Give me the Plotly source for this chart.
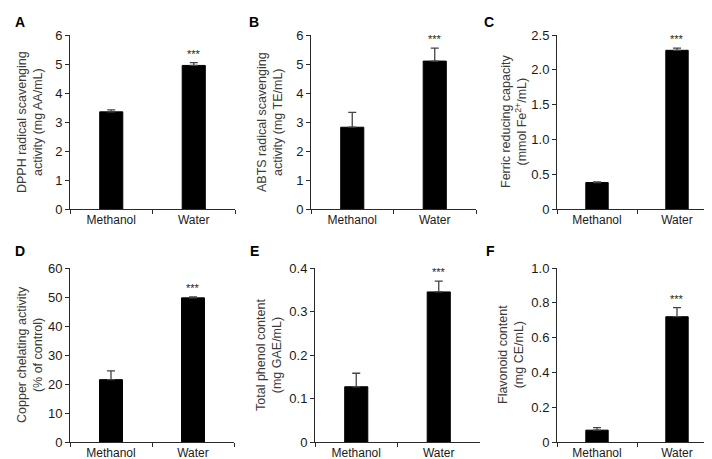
import plotly.graph_objects as go

categories = ["Methanol", "Water"]

panel_letters = ["A", "B", "C", "D", "E", "F"]

y_titles = [
    "DPPH radical scavenging<br>activity (mg AA/mL)",
    "ABTS radical scavenging<br>activity (mg TE/mL)",
    "Ferric reducing capacity<br>(mmol Fe<sup>2+</sup>/mL)",
    "Copper chelating activity<br>(% of control)",
    "Total phenol content<br>(mg GAE/mL)",
    "Flavonoid content<br>(mg CE/mL)",
]

means_A = [3.35, 4.95]
errs_A = [0.07, 0.10]
means_B = [2.82, 5.10]
errs_B = [0.51, 0.45]
means_C = [0.38, 2.28]
errs_C = [0.01, 0.03]
means_D = [21.5, 49.7]
errs_D = [3.0, 0.3]
means_E = [0.127, 0.345]
errs_E = [0.031, 0.025]
means_F = [0.068, 0.720]
errs_F = [0.015, 0.052]

ticks_A = [0, 1, 2, 3, 4, 5, 6]
ticks_B = [0, 1, 2, 3, 4, 5, 6]
ticks_C = [0, 0.5, 1.0, 1.5, 2.0, 2.5]
ticks_D = [0, 10, 20, 30, 40, 50, 60]
ticks_E = [0, 0.1, 0.2, 0.3, 0.4]
ticks_F = [0, 0.2, 0.4, 0.6, 0.8, 1.0]

ticktext_A = ["0", "1", "2", "3", "4", "5", "6"]
ticktext_B = ["0", "1", "2", "3", "4", "5", "6"]
ticktext_C = ["0", "0.5", "1.0", "1.5", "2.0", "2.5"]
ticktext_D = ["0", "10", "20", "30", "40", "50", "60"]
ticktext_E = ["0", "0.1", "0.2", "0.3", "0.4"]
ticktext_F = ["0", "0.2", "0.4", "0.6", "0.8", "1.0"]

significance = "***"

means = [means_A, means_B, means_C, means_D, means_E, means_F]
errs = [errs_A, errs_B, errs_C, errs_D, errs_E, errs_F]
ticks = [ticks_A, ticks_B, ticks_C, ticks_D, ticks_E, ticks_F]
ticktexts = [ticktext_A, ticktext_B, ticktext_C, ticktext_D, ticktext_E, ticktext_F]

W, H = 712, 459
# layout in pixels: (x_left, x_right, y_top, y_bottom)
boxes = [
    (62, 227, 27, 201),
    (303, 468, 27, 201),
    (549, 709, 27, 201),
    (62, 226, 260, 434),
    (307, 472, 260, 434),
    (549, 709, 260, 434),
]
title_x = [22, 262, 506, 22, 261, 503]
letter_pos = [(12, 14), (246, 14), (481, 14), (12, 243), (246, 243), (482, 243)]

FONT = "Liberation Sans, Arial, sans-serif"
AX = "#2a2a2a"

fig = go.Figure()
annotations = []
layout_axes = {}

for i in range(6):
    n = "" if i == 0 else str(i + 1)
    xl, xr, yt, yb = boxes[i]
    fig.add_trace(go.Bar(
        x=categories, y=means[i],
        xaxis="x" + n, yaxis="y" + n,
        width=0.28,
        marker=dict(color="black", line=dict(color="black", width=1)),
        error_y=dict(type="data", array=errs[i], arrayminus=[0, 0], symmetric=False,
                     color="#444444", thickness=1.3, width=4),
        showlegend=False, hoverinfo="skip",
    ))
    layout_axes["xaxis" + n] = dict(
        domain=[xl / W, xr / W], anchor="y" + n,
        type="category", range=[-0.5, 1.5],
        showline=True, linecolor=AX, linewidth=1,
        ticks="outside", tickson="boundaries", ticklen=4, tickcolor=AX, tickwidth=1,
        tickfont=dict(family=FONT, size=12, color="#1a1a1a"),
        showgrid=False, zeroline=False, fixedrange=True,
    )
    ymax = ticks[i][-1]
    layout_axes["yaxis" + n] = dict(
        domain=[(H - yb) / H, (H - yt) / H], anchor="x" + n,
        range=[0, ymax],
        tickmode="array", tickvals=ticks[i], ticktext=ticktexts[i],
        showline=True, linecolor=AX, linewidth=1,
        ticks="outside", ticklen=4, tickcolor=AX, tickwidth=1,
        tickfont=dict(family=FONT, size=13, color="#1a1a1a"),
        showgrid=False, zeroline=False, fixedrange=True,
    )
    # y title
    annotations.append(dict(
        xref="paper", yref="paper",
        x=title_x[i] / W, y=(H - (yt + yb) / 2) / H,
        text=y_titles[i], textangle=-90, showarrow=False,
        xanchor="center", yanchor="middle",
        font=dict(family=FONT, size=12.5, color="#3a3a3a"),
    ))
    # panel letter
    lx, ly = letter_pos[i]
    annotations.append(dict(
        xref="paper", yref="paper",
        x=lx / W, y=(H - ly) / H,
        text="<b>" + panel_letters[i] + "</b>", showarrow=False,
        xanchor="center", yanchor="middle",
        font=dict(family=FONT, size=14, color="black"),
    ))
    # significance
    annotations.append(dict(
        xref="x" + n, yref="y" + n,
        x=categories[1], y=means[i][1] + errs[i][1],
        text=significance, showarrow=False,
        xanchor="center", yanchor="bottom", yshift=1,
        font=dict(family=FONT, size=11, color="#222222"),
    ))

fig.update_layout(
    width=W, height=H,
    margin=dict(l=0, r=0, t=0, b=0),
    paper_bgcolor="white", plot_bgcolor="white",
    template="none",
    annotations=annotations,
    **layout_axes,
)

fig.write_html("out.html")
